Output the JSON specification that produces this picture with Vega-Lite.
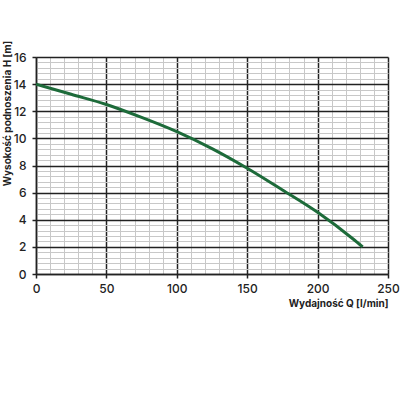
{
  "$schema": "https://vega.github.io/schema/vega-lite/v6.json",
  "width": 352,
  "height": 217,
  "autosize": {"type": "none"},
  "padding": {"left": 36, "top": 57, "right": 12, "bottom": 126},
  "background": "white",
  "config": {
    "view": {"stroke": null},
    "font": "Inter"
  },
  "data": {
    "values": [
      {"Q": 0, "H": 14.0},
      {"Q": 25, "H": 13.25},
      {"Q": 50, "H": 12.5},
      {"Q": 75, "H": 11.55},
      {"Q": 100, "H": 10.5},
      {"Q": 125, "H": 9.25},
      {"Q": 150, "H": 7.8},
      {"Q": 175, "H": 6.2},
      {"Q": 200, "H": 4.55},
      {"Q": 225, "H": 2.6},
      {"Q": 232, "H": 2.0}
    ]
  },
  "mark": {"type": "line", "color": "#1d6b3a", "strokeWidth": 3, "interpolate": "monotone", "clip": true},
  "encoding": {
    "x": {
      "field": "Q",
      "type": "quantitative",
      "scale": {"domain": [0, 250], "nice": false},
      "axis": {
        "title": "Wydajność Q [l/min]",
        "titleAnchor": "end",
        "titleFont": "Inter",
        "titleFontWeight": "bold",
        "titleFontSize": 10,
        "titleColor": "#222",
        "titlePadding": 4,
        "values": [0,10,20,30,40,50,60,70,80,90,100,110,120,130,140,150,160,170,180,190,200,210,220,230,240,250],
        "labelExpr": "datum.value % 50 === 0 ? format(datum.value, 'd') : ''",
        "labelOverlap": false,
        "labelFlush": false,
        "labelFontSize": 12,
        "labelFontWeight": 500,
        "labelColor": "#222",
        "labelPadding": 5,
        "tickSize": {"condition": {"test": "datum.value % 50 === 0", "value": 4}, "value": 0},
        "tickColor": "#222",
        "tickWidth": 1.5,
        "domainColor": "#222",
        "domainWidth": 1.5,
        "grid": true,
        "gridColor": {"condition": {"test": "datum.value % 50 === 0", "value": "#222"}, "value": "#c8c8c8"},
        "gridWidth": {"condition": {"test": "datum.value % 50 === 0", "value": 1.5}, "value": 1},
        "gridOpacity": 1
      }
    },
    "y": {
      "field": "H",
      "type": "quantitative",
      "scale": {"domain": [0, 16], "nice": false},
      "axis": {
        "title": "Wysokość podnoszenia H [m]",
        "titleFont": "Inter",
        "titleFontWeight": "bold",
        "titleFontSize": 10,
        "titleColor": "#222",
        "titleX": -26,
        "titleY": 56,
        "titleAngle": -90,
        "titleAlign": "center",
        "titleBaseline": "alphabetic",
        "values": [0,0.4,0.8,1.2,1.6,2,2.4,2.8,3.2,3.6,4,4.4,4.8,5.2,5.6,6,6.4,6.8,7.2,7.6,8,8.4,8.8,9.2,9.6,10,10.4,10.8,11.2,11.6,12,12.4,12.8,13.2,13.6,14,14.4,14.8,15.2,15.6,16],
        "labelExpr": "datum.value % 2 === 0 ? format(datum.value, 'd') : ''",
        "labelOverlap": false,
        "labelFlush": false,
        "labelFontSize": 12,
        "labelFontWeight": 500,
        "labelColor": "#222",
        "labelPadding": 6,
        "tickSize": {"condition": {"test": "datum.value % 2 === 0", "value": 4}, "value": 0},
        "tickColor": "#222",
        "tickWidth": 1.5,
        "domainColor": "#222",
        "domainWidth": 1.5,
        "grid": true,
        "gridColor": {"condition": {"test": "datum.value % 2 === 0", "value": "#222"}, "value": "#c8c8c8"},
        "gridWidth": {"condition": {"test": "datum.value % 2 === 0", "value": 1.5}, "value": 1},
        "gridOpacity": 1
      }
    }
  }
}
